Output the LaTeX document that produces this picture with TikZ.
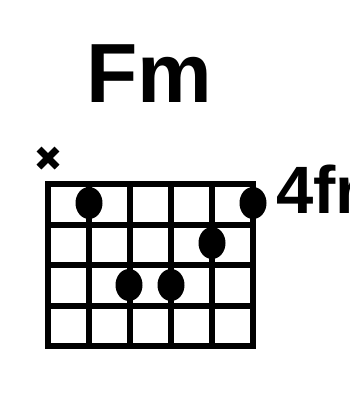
\documentclass[tikz,border=0pt]{standalone}
\usepackage{fontspec}
\setmainfont{Liberation Sans}
\usetikzlibrary{positioning}
\usepackage{xcolor}
\definecolor{inkblack}{RGB}{0, 0, 0}

\begin{document}
\begin{tikzpicture}[x=1pt, y=-1pt,
  gridline/.style={inkblack, line width=6pt, line cap=rect},
  fingerdot/.style={inkblack}]
  \useasboundingbox (0,0) rectangle (349,400);

  % chord name
  \node[anchor=base, inner sep=0pt, font=\fontsize{84}{84}\selectfont\bfseries] (title) at (149.5,102) {Fm};

  % muted string
  \draw[inkblack, line width=7pt] (39,149) -- (57,167) (57,149) -- (39,167);

  % strings and frets
  \foreach \s in {0,...,5}
    \draw[gridline] (48+41*\s,184) -- (48+41*\s,346);
  \foreach \f in {0,...,4}
    \draw[gridline] (48,184+40.5*\f) -- (253,184+40.5*\f);

  % fingers
  \fill[fingerdot] (89,203) ellipse [x radius=13.5pt, y radius=16pt];
  \fill[fingerdot] (253,203) ellipse [x radius=13.5pt, y radius=16pt];
  \fill[fingerdot] (212,243) ellipse [x radius=13.5pt, y radius=16pt];
  \fill[fingerdot] (129,285) ellipse [x radius=13.5pt, y radius=16pt];
  \fill[fingerdot] (171,285) ellipse [x radius=13.5pt, y radius=16pt];

  \node[anchor=base west, inner sep=0pt, font=\fontsize{67}{67}\selectfont\bfseries] (fretlabel) at (276,213) {4fr};
\end{tikzpicture}
\end{document}
